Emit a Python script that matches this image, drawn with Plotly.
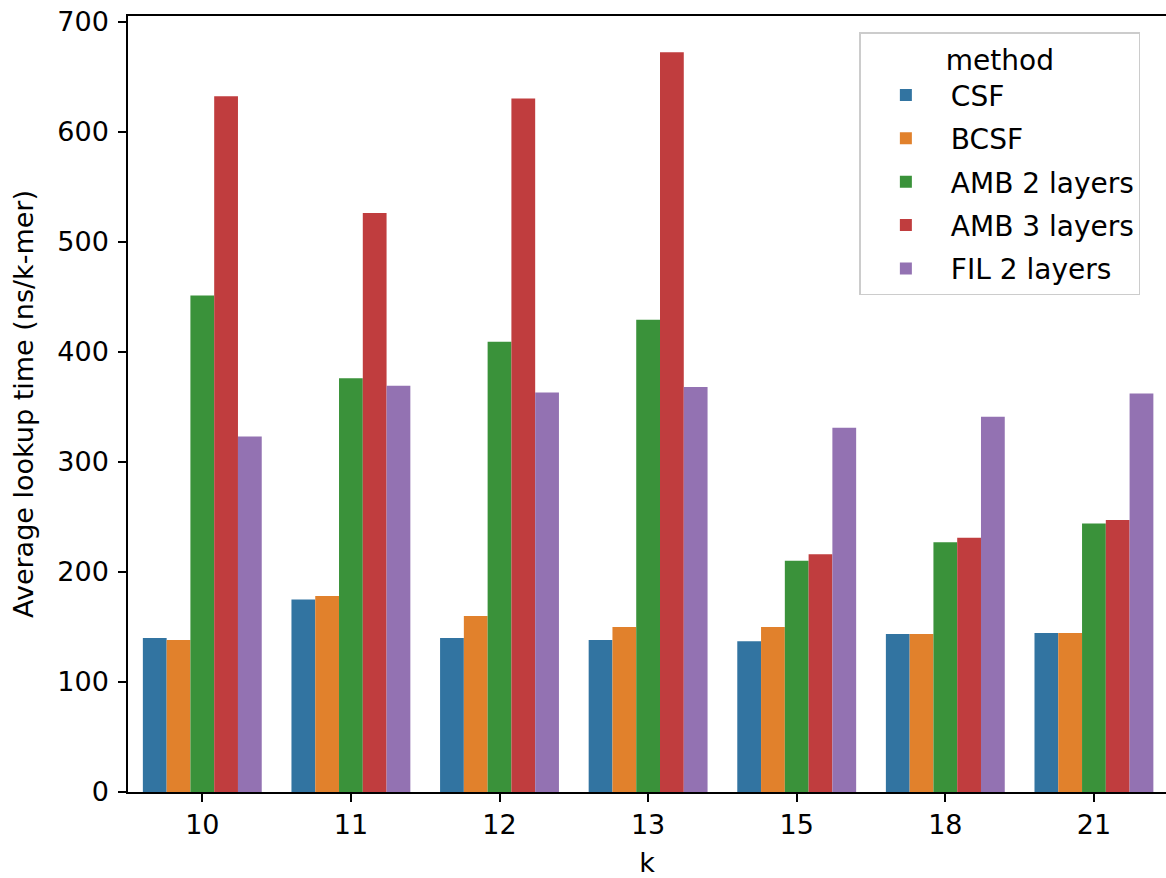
import plotly.graph_objects as go

k_labels = ["10", "11", "12", "13", "15", "18", "21"]
methods = ["CSF", "BCSF", "AMB 2 layers", "AMB 3 layers", "FIL 2 layers"]
csf = [140, 175, 140, 138, 137, 143.5, 144.5]
bcsf = [138, 178, 160, 150, 150, 143.5, 144.5]
amb2 = [451, 376, 409, 429, 210, 227, 244]
amb3 = [632, 526, 630, 672, 216, 231, 247]
fil2 = [323, 369, 363, 368, 331, 341, 362]
colors = ["#3274a1", "#e1812c", "#3a923a", "#c03d3e", "#9372b2"]

series = [csf, bcsf, amb2, amb3, fil2]
font = "DejaVu Sans"
fs = 27
lfs = 28

fig = go.Figure()
for i, (name, vals) in enumerate(zip(methods, series)):
    fig.add_trace(go.Bar(
        x=k_labels, y=vals, name=name, legendgroup=name,
        marker=dict(color=colors[i], line=dict(width=0)),
    ))

fig.update_layout(
    width=1166, height=878,
    margin=dict(l=128, r=0, t=16, b=86, autoexpand=False),
    plot_bgcolor="white", paper_bgcolor="white",
    barmode="group", bargap=0.2, bargroupgap=0,
    font=dict(family=font, size=fs, color="black"),
    showlegend=True,
    legend=dict(
        x=0.7046, y=0.979, xanchor="left", yanchor="top",
        bgcolor="rgba(255,255,255,0.8)", bordercolor="#cccccc", borderwidth=1.5,
        font=dict(family=font, size=lfs, color="black"),
        title=dict(text="method", side="top center", font=dict(family=font, size=lfs)),
        tracegroupgap=4, itemwidth=80,
    ),
)
fig.update_xaxes(
    type="category", range=[-0.5, 6.485], automargin=False,
    showline=True, linecolor="black", linewidth=1.5, mirror=True,
    ticks="outside", ticklen=8, tickwidth=1.5, tickcolor="black",
    showgrid=False, zeroline=False,
    title=dict(text="k", font=dict(family=font, size=fs), standoff=22),
    tickfont=dict(family=font, size=fs),
)
fig.update_yaxes(
    range=[0, 705], tickvals=[0, 100, 200, 300, 400, 500, 600, 700], automargin=False,
    showline=True, linecolor="black", linewidth=1.5,
    ticks="outside", ticklen=8, tickwidth=1.5, tickcolor="black",
    ticklabelstandoff=4,
    showgrid=False, zeroline=False,
    title=dict(text="Average lookup time (ns/k-mer)", font=dict(family=font, size=fs), standoff=16),
    tickfont=dict(family=font, size=fs),
)

fig.write_html(
    "out.html",
    config={"displayModeBar": False},
    post_script="document.body.style.margin='0';document.body.style.overflow='hidden';",
)
